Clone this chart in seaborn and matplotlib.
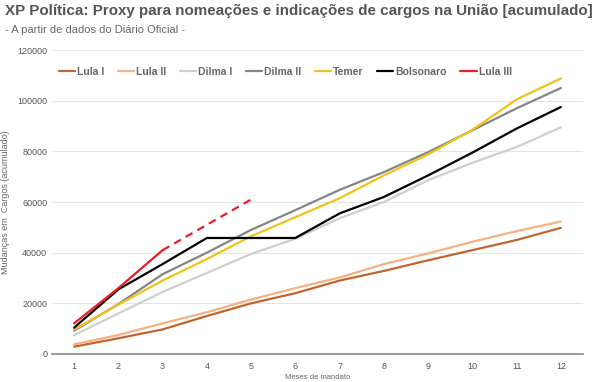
import pandas as pd
import matplotlib.pyplot as plt
import seaborn as sns

# dados
meses = list(range(1, 13))
lula_i = [2900, 6200, 9700, 15000, 20000, 24000, 29000, 32800, 37000, 41000, 45000, 49800]
lula_ii = [3800, 7500, 12100, 16500, 21500, 26000, 30200, 35500, 39700, 44300, 48500, 52300]
dilma_i = [7400, 16000, 24500, 32000, 39500, 45500, 53600, 60000, 68600, 75500, 81700, 89500]
dilma_ii = [9200, 19700, 31500, 40000, 49000, 56800, 64800, 71800, 79700, 88300, 97000, 105000]
temer = [9700, 19500, 29000, 37500, 46500, 54000, 61500, 70500, 78800, 88500, 100500, 108800]
bolsonaro = [10400, 25500, 35500, 45800, 45800, 45800, 55500, 62000, 70500, 79500, 89000, 97500]
lula_iii = [12100, 26000, 41000, 51000, 61000]
lula_iii_realizado = 3  # meses com dado real; o resto é projeção (tracejado)

series = {
    "Lula I": (lula_i, "#c0652b"),
    "Lula II": (lula_ii, "#f4b183"),
    "Dilma I": (dilma_i, "#cfcfcf"),
    "Dilma II": (dilma_ii, "#858585"),
    "Temer": (temer, "#f2c21b"),
    "Bolsonaro": (bolsonaro, "#000000"),
}

sns.set_style("white")
plt.rcParams['font.family'] = ['Liberation Sans', 'DejaVu Sans']

fig = plt.figure(figsize=(6.01, 3.82), dpi=100)
ax = fig.add_axes([0.0865, 0.0733, 0.8835, 0.7957])

for nome, (vals, cor) in series.items():
    df = pd.DataFrame({"Mes": meses, "Valor": vals})
    sns.lineplot(data=df, x="Mes", y="Valor", color=cor, linewidth=1.6, ax=ax, label=nome)

df3 = pd.DataFrame({"Mes": meses[:len(lula_iii)], "Valor": lula_iii})
sns.lineplot(data=df3.iloc[:lula_iii_realizado], x="Mes", y="Valor", color="#ee1c25",
             linewidth=1.6, ax=ax, label="Lula III")
sns.lineplot(data=df3.iloc[lula_iii_realizado - 1:], x="Mes", y="Valor", color="#ee1c25",
             linewidth=1.6, linestyle=(0, (3.5, 2.5)), ax=ax, legend=False)

ax.set_xlim(0.5, 12.5)
ax.set_ylim(0, 120000)
ax.set_xticks(meses)
ax.set_yticks(range(0, 120001, 20000))
ax.tick_params(axis='both', length=0, labelsize=6.5, labelcolor="#555555")
ax.tick_params(axis='x', pad=6)
ax.grid(axis='y', color="#e4e4e4", linewidth=0.8)
for s in ["top", "right", "left"]:
    ax.spines[s].set_visible(False)
ax.spines["bottom"].set_color("#888888")
ax.spines["bottom"].set_linewidth(1.2)

ax.set_xlabel("Meses de mandato", fontsize=5.5, color="#666666", labelpad=2)
ax.set_ylabel("Mudanças em  Cargos (acumulado)", fontsize=6.5, color="#666666")
ax.yaxis.set_label_coords(-0.08, 0.5)

leg = ax.legend(loc="upper left", bbox_to_anchor=(-0.005, 0.975), ncol=7, frameon=False,
                handlelength=1.6, handletextpad=0.2, columnspacing=1.25,
                prop={"weight": "bold", "size": 7.5})
for t in leg.get_texts():
    t.set_color("#666666")

fig.text(0.008, 0.952, "XP Política: Proxy para nomeações e indicações de cargos na União [acumulado]",
         fontsize=10.9, fontweight="bold", color="#555555", va="bottom")
fig.text(0.008, 0.935, "- A partir de dados do Diário Oficial -", fontsize=8, color="#666666", va="top")

fig.savefig("out.png", dpi=100)
